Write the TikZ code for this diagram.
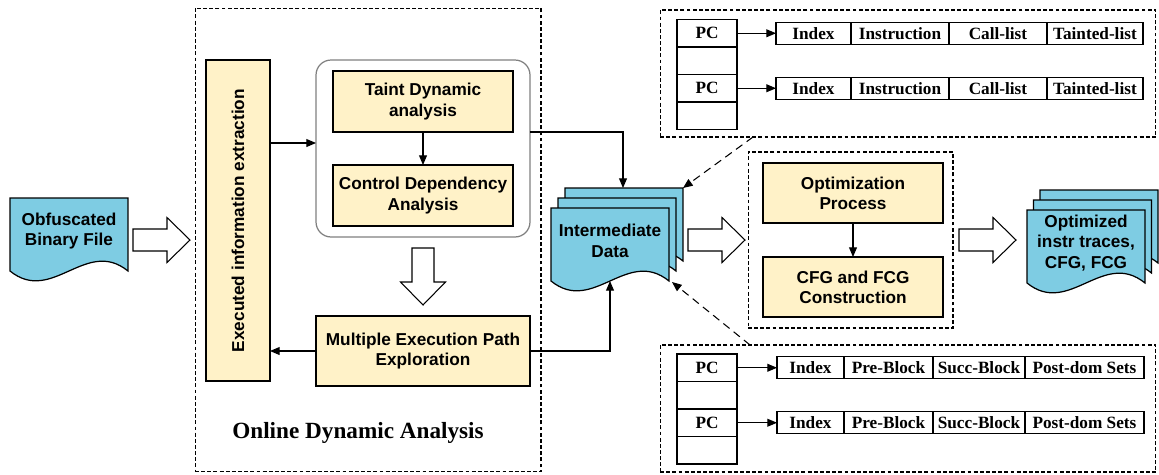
\documentclass[tikz,border=0pt]{standalone}
\usepackage{fontspec}
\setmainfont{Liberation Serif}
\setsansfont{Liberation Sans}
\usepackage{graphicx}
\usetikzlibrary{arrows.meta,calc,positioning}
\definecolor{boxyellow}{HTML}{FFF2C8}
\definecolor{docblue}{HTML}{7ECCE3}
\definecolor{framegray}{HTML}{808080}
\pgfdeclarelayer{background}
\pgfsetlayers{background,main}

\tikzset{
  procbox/.style={draw,fill=boxyellow,line width=0.7pt,align=center,inner sep=0pt,outer sep=0pt,
    font={\fontsize{9.8}{11.5}\selectfont\sffamily\bfseries}},
  docbody/.style={minimum width=2.36cm,minimum height=1.32cm,inner sep=0pt,outer sep=0pt,align=center,
    font={\fontsize{9.8}{11.8}\selectfont\sffamily\bfseries}},
  docstyle/.style={draw,fill=docblue,line width=0.7pt},
  frame/.style={draw,dash pattern=on 2.2pt off 1.3pt,line width=0.6pt,inner sep=0pt,outer sep=0pt},
  pccell/.style={draw,line width=0.7pt,minimum width=1.2cm,minimum height=0.55cm,inner sep=0pt,outer sep=0pt,
    font={\fontsize{9.8}{11}\selectfont\bfseries}},
  reccell/.style={draw,line width=0.7pt,minimum height=0.44cm,inner sep=0pt,outer sep=0pt,
    font={\fontsize{9.8}{11}\selectfont\bfseries}},
  arr/.style={line width=0.6pt,-{Triangle[length=5.5pt,width=4.5pt]}},
  dasharr/.style={arr,dash pattern=on 4.5pt off 3pt},
  hollow/.pic={\draw[line width=0.6pt,fill=white] (0,-11) -- (34,-11) -- (34,-22.5) -- (57,0)
    -- (34,22.5) -- (34,11) -- (0,11) -- cycle;}
}

% document shape with a wavy bottom, drawn round a node
\newcommand{\docshape}[3]{%
  \filldraw[docstyle] ($(#1.north west)+(#2,#3)$) -- ($(#1.north east)+(#2,#3)$)
    -- ($(#1.south east)+(#2,#3+7)$)
    .. controls ($(#1.south east)+(#2-42,#3+7-34)$) and ($(#1.south west)+(#2+42,#3+7+34)$)
    .. ($(#1.south west)+(#2,#3+7)$) -- cycle;}

\begin{document}
\begin{tikzpicture}[x=0.02cm,y=-0.02cm]
  \useasboundingbox (0,0) rectangle (1159,474);

  % input
  \node[docbody] (obf) at (69,231) {Obfuscated\\Binary File};
  \pic at (133,240) {hollow};

  % online dynamic analysis
  \node[frame,minimum width=6.92cm,minimum height=9.28cm] (online) at (368,240) {};
  \node[procbox,minimum width=1.28cm,minimum height=6.42cm] (extract) at (238,220.5)
    {\rotatebox{90}{Executed information extraction}};
  \node[draw=framegray,line width=0.7pt,rounded corners=0.3cm,fill=white,minimum width=4.28cm,
    minimum height=3.54cm,outer sep=0pt] (taintgrp) at (423,148.5) {};
  \node[procbox,minimum width=3.6cm,minimum height=1.22cm] (taint) at (423,101.5) {Taint Dynamic\\analysis};
  \node[procbox,minimum width=3.6cm,minimum height=1.22cm] (ctrldep) at (423,195.5) {Control Dependency\\Analysis};
  \node[procbox,minimum width=4.28cm,minimum height=1.4cm] (mep) at (423,351) {Multiple Execution Path\\Exploration};
  \pic[rotate=-90] at (423,248) {hollow};
  \node[font={\fontsize{13.2}{15}\selectfont\bfseries}] (onlinelbl) at (358,433) {Online Dynamic Analysis};
  \coordinate (grpin) at (316,143);
  \draw[arr] (extract.east |- grpin) -- (grpin);
  \draw[arr] (taint) -- (ctrldep);
  \draw[arr] (mep.west) -- (extract.east |- mep.west);

  % intermediate data
  \node[docbody] (inter) at (610,241) {Intermediate\\Data};
  \draw[arr] (taintgrp.east |- 0,132) -| ($(inter.north)+(13,-20)$);
  \draw[arr] (mep.east) -| ($(inter.south)+(0,7)$);
  \pic at (688,240) {hollow};

  % optimization
  \node[frame,minimum width=4.1cm,minimum height=3.52cm] (optframe) at (850.5,240) {};
  \node[procbox,minimum width=3.6cm,minimum height=1.2cm] (optproc) at (853,193) {Optimization\\Process};
  \node[procbox,minimum width=3.6cm,minimum height=1.2cm] (cfgfcg) at (853,287) {CFG and FCG\\Construction};
  \draw[arr] (optproc) -- (cfgfcg);
  \pic at (959,240) {hollow};
  \node[docbody] (optout) at (1086,243) {Optimized\\instr traces,\\CFG, FCG};

  % instruction trace table
  \node[frame,minimum width=9.92cm,minimum height=2.54cm] (toptab) at (908,73.5) {};
  \node[pccell] (tpc1) at (707,33.25) {PC};
  \node[pccell,below=0pt of tpc1] (tpe1) {};
  \node[pccell,below=0pt of tpe1] (tpc2) {PC};
  \node[pccell,below=0pt of tpc2] (tpe2) {};
  \foreach \i in {1,2}{
    \node[reccell,minimum width=1.5cm,anchor=west] (tidx\i) at ($(tpc\i.east)+(39,0)$) {Index};
    \node[reccell,minimum width=1.96cm,right=0pt of tidx\i] (tins\i) {Instruction};
    \node[reccell,minimum width=1.96cm,right=0pt of tins\i] (tcall\i) {Call-list};
    \node[reccell,minimum width=1.92cm,right=0pt of tcall\i] (ttnt\i) {Tainted-list};
    \draw[arr] (tpc\i) -- (tidx\i);
  }

  % block table
  \node[frame,minimum width=9.92cm,minimum height=2.54cm] (bottab) at (908,408.5) {};
  \node[pccell] (bpc1) at (707,367.75) {PC};
  \node[pccell,below=0pt of bpc1] (bpe1) {};
  \node[pccell,below=0pt of bpe1] (bpc2) {PC};
  \node[pccell,below=0pt of bpc2] (bpe2) {};
  \foreach \i in {1,2}{
    \node[reccell,minimum width=1.34cm,anchor=west] (bidx\i) at ($(bpc\i.east)+(40,0)$) {Index};
    \node[reccell,minimum width=1.78cm,right=0pt of bidx\i] (bpre\i) {Pre-Block};
    \node[reccell,minimum width=1.84cm,right=0pt of bpre\i] (bsucc\i) {Succ-Block};
    \node[reccell,minimum width=2.38cm,right=0pt of bsucc\i] (bpost\i) {Post-dom Sets};
    \draw[arr] (bpc\i) -- (bidx\i);
  }

  \draw[dasharr] ($(toptab.south west)+(93,0)$) -- ($(inter.north east)+(14,-20)$);
  \draw[dasharr] ($(bottab.north west)+(90,0)$) -- ($(inter.south east)+(3,8)$);

  \begin{pgfonlayer}{background}
    \docshape{obf}{0}{0}
    \docshape{inter}{14}{-20}
    \docshape{inter}{7}{-10}
    \docshape{inter}{0}{0}
    \docshape{optout}{13}{-20}
    \docshape{optout}{6.5}{-10}
    \docshape{optout}{0}{0}
  \end{pgfonlayer}
\end{tikzpicture}
\end{document}
